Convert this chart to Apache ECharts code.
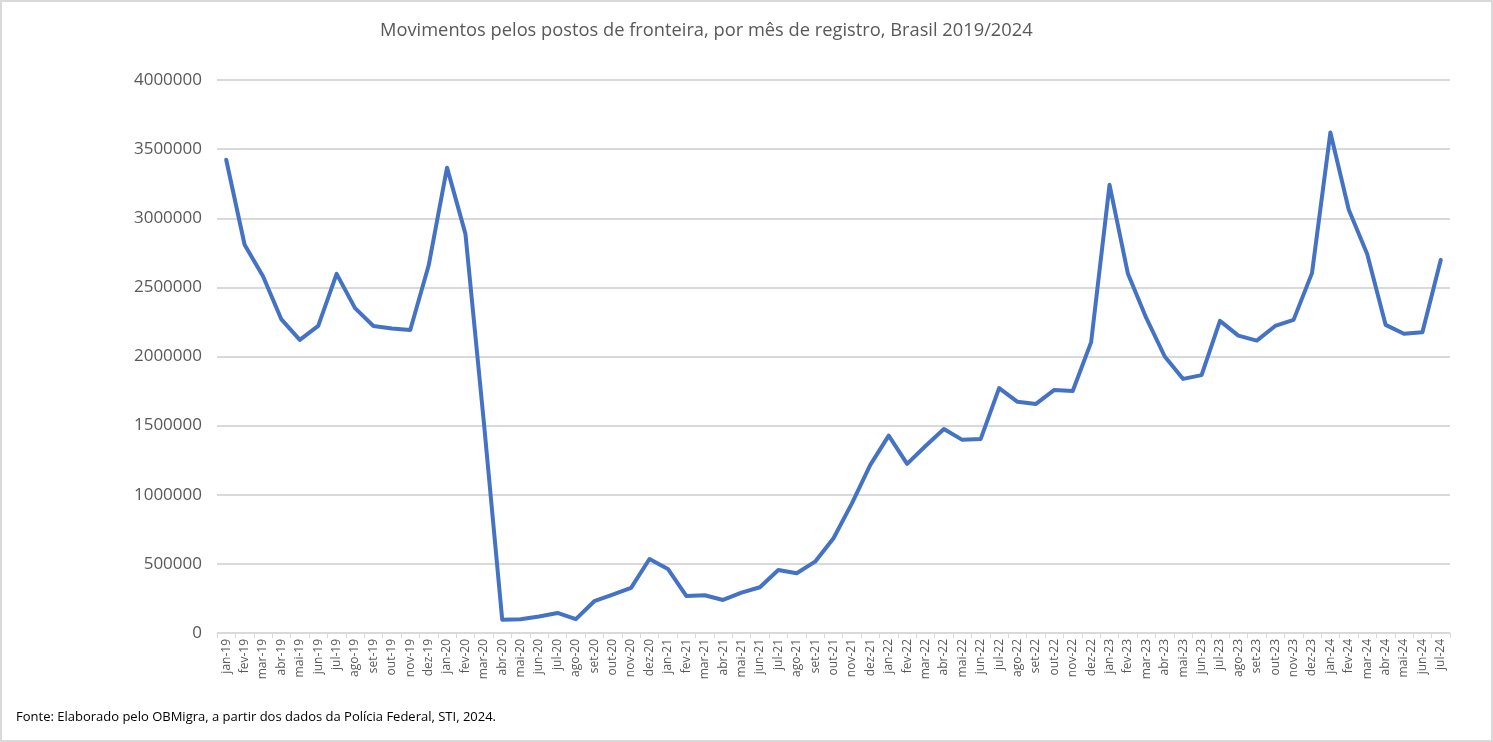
<!DOCTYPE html>
<html>
<head>
<meta charset="utf-8">
<script src="https://cdn.jsdelivr.net/npm/echarts@6/dist/echarts.min.js"></script>
<style>
html,body{margin:0;padding:0;background:#fff;}
#chart{width:1493px;height:742px;}
</style>
</head>
<body>
<div id="chart"></div>
<script>
const categories = [
 'jan-19','fev-19','mar-19','abr-19','mai-19','jun-19','jul-19','ago-19','set-19','out-19','nov-19','dez-19',
 'jan-20','fev-20','mar-20','abr-20','mai-20','jun-20','jul-20','ago-20','set-20','out-20','nov-20','dez-20',
 'jan-21','fev-21','mar-21','abr-21','mai-21','jun-21','jul-21','ago-21','set-21','out-21','nov-21','dez-21',
 'jan-22','fev-22','mar-22','abr-22','mai-22','jun-22','jul-22','ago-22','set-22','out-22','nov-22','dez-22',
 'jan-23','fev-23','mar-23','abr-23','mai-23','jun-23','jul-23','ago-23','set-23','out-23','nov-23','dez-23',
 'jan-24','fev-24','mar-24','abr-24','mai-24','jun-24','jul-24'
];
const movimentos = [
 3423000, 2808000, 2580000, 2268000, 2120000, 2221000, 2598000, 2350000, 2221000, 2202000, 2192000, 2658000,
 3366000, 2887000, 1525000, 95000, 100000, 120000, 145000, 100000, 230000, 278000, 326000, 535000,
 463000, 268000, 273000, 239000, 292000, 331000, 456000, 432000, 516000, 685000, 938000, 1216000,
 1428000, 1223000, 1353000, 1476000, 1397000, 1404000, 1771000, 1672000, 1657000, 1758000, 1751000, 2104000,
 3242000, 2598000, 2277000, 2000000, 1838000, 1865000, 2258000, 2151000, 2115000, 2221000, 2265000, 2603000,
 3620000, 3061000, 2742000, 2229000, 2164000, 2176000, 2699000
];
const yTicks = { min: 0, max: 4000000, interval: 500000 };
const titleText = 'Movimentos pelos postos de fronteira, por mês de registro, Brasil 2019/2024';
const sourceText = 'Fonte: Elaborado pelo OBMigra, a partir dos dados da Polícia Federal, STI, 2024.';

const chart = echarts.init(document.getElementById('chart'));
chart.setOption({
  animation: false,
  backgroundColor: '#fff',
  textStyle: { fontFamily: 'Open Sans' },
  title: {
    text: titleText,
    left: 375,
    top: 17,
    textStyle: { fontFamily: 'Open Sans', fontSize: 18.3, fontWeight: 'normal', color: '#595959' }
  },
  graphic: [
    { type: 'rect', shape: { x: 1, y: 1, width: 1491, height: 740 }, style: { fill: 'none', stroke: '#d9d9d9', lineWidth: 2 }, silent: true },
    { type: 'text', left: 16, top: 711, style: { text: sourceText, font: '13px "Open Sans"', fill: '#000' } }
  ],
  grid: { left: 217, right: 43, top: 80, bottom: 109, containLabel: false },
  xAxis: {
    type: 'category',
    data: categories,
    boundaryGap: true,
    axisLine: { lineStyle: { color: '#d9d9d9', width: 1 } },
    axisTick: { show: true, alignWithLabel: false, length: 5, lineStyle: { color: '#d9d9d9' } },
    axisLabel: { rotate: 90, interval: 0, fontSize: 12, color: '#595959', fontFamily: 'Open Sans', margin: 6 }
  },
  yAxis: {
    type: 'value',
    min: yTicks.min, max: yTicks.max, interval: yTicks.interval,
    axisLine: { show: false },
    axisTick: { show: false },
    axisLabel: { fontSize: 17, color: '#595959', fontFamily: 'Open Sans', margin: 15, formatter: v => String(v) },
    splitLine: { lineStyle: { color: '#d9d9d9', width: 2 } }
  },
  series: [{
    type: 'line',
    data: movimentos,
    showSymbol: false,
    symbol: 'none',
    lineStyle: { color: '#4472C4', width: 4, join: 'round', cap: 'round' },
    itemStyle: { color: '#4472C4' }
  }]
});
</script>
</body>
</html>
